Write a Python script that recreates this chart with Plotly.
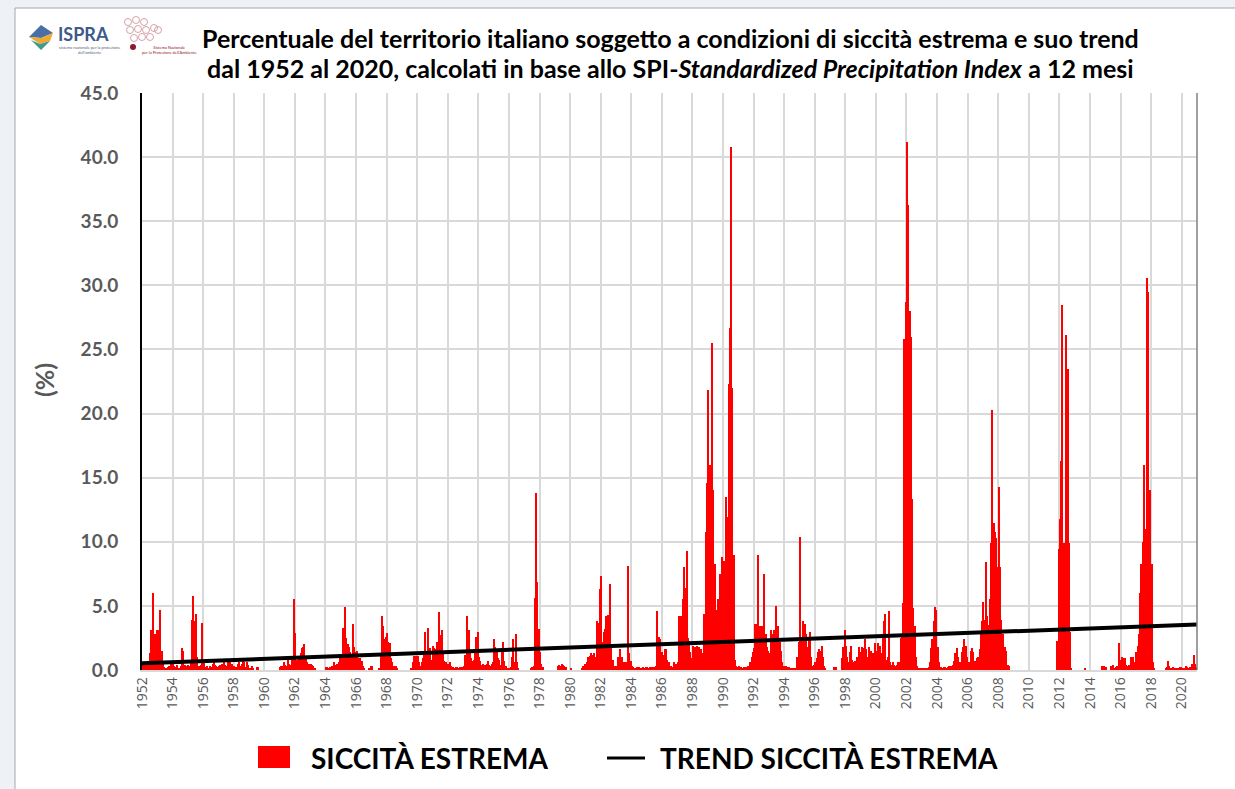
import plotly.graph_objects as go

# ---------------- DATA (monthly % of territory in extreme drought, SPI-12) ----------------
years = list(range(1952, 2021))

s1950s = [  # 1952-1959
    0.5, 0.4, 0.6, 0.5, 0.4, 0.6, 1.3, 3.1, 6.0, 2.3, 2.8, 3.1,
    3.1, 1.8, 4.7, 1.5, 0.5, 0.2, 0.1, 0.1, 0.2, 0.3, 0.6, 0.7,
    0.5, 0.3, 0.2, 0.4, 0.1, 0.1, 0.3, 1.7, 1.5, 0.4, 0.3, 0.3,
    0.4, 0.3, 0.8, 3.9, 5.8, 3.8, 4.4, 1.0, 0.3, 0.2, 0.4, 3.7,
    0.8, 0.2, 0.1, 0.3, 0.1, 0.3, 0.2, 0.5, 0.6, 0.4, 0.3, 0.2,
    0.3, 0.4, 0.5, 0.2, 0.6, 0.4, 0.3, 0.7, 0.7, 0.8, 0.5, 0.3,
    0.3, 0.2, 0.1, 0.5, 0.6, 0.3, 0.5, 0.8, 0.6, 0.2, 0.6, 0.4,
    0.1, 0.0, 0.3, 0.1, 0.0, 0.0, 0.2, 0.2, 0.0, 0.0, 0.0, 0.0,
]
s1960s = [  # 1960-1969
    0.0, 0.0, 0.0, 0.0, 0.0, 0.0, 0.0, 0.0, 0.0, 0.0, 0.0, 0.0,
    0.2, 0.3, 0.3, 0.6, 0.4, 0.3, 0.8, 0.5, 0.4, 1.0, 0.8, 5.5,
    2.9, 0.8, 0.7, 0.9, 1.3, 1.7, 1.8, 2.0, 1.0, 0.6, 0.4, 0.5,
    0.5, 0.4, 0.3, 0.1, 0.0, 0.0, 0.0, 0.0, 0.0, 0.0, 0.0, 0.0,
    0.2, 0.2, 0.1, 0.2, 0.2, 0.3, 0.6, 0.3, 0.4, 0.5, 0.6, 1.0,
    1.2, 3.3, 2.5, 4.9, 2.5, 2.0, 1.8, 1.4, 1.2, 3.6, 1.8, 1.4,
    1.5, 0.9, 0.7, 0.9, 0.7, 0.3, 0.1, 0.0, 0.0, 0.0, 0.1, 0.3,
    0.3, 0.0, 0.0, 0.0, 0.0, 0.0, 0.1, 1.3, 4.2, 3.4, 2.4, 2.6,
    2.9, 2.2, 2.1, 0.9, 0.6, 0.3, 0.2, 0.3, 0.1, 0.0, 0.0, 0.0,
    0.0, 0.0, 0.0, 0.0, 0.0, 0.0, 0.0, 0.1, 0.6, 1.1, 1.1, 1.1,
]
s1970s = [  # 1970-1979
    1.1, 0.6, 0.3, 0.6, 0.9, 1.5, 3.0, 1.3, 3.3, 1.1, 1.7, 0.8,
    1.9, 1.7, 1.6, 2.2, 1.7, 4.5, 2.7, 3.1, 1.3, 0.7, 0.6, 0.3,
    0.5, 0.6, 0.3, 0.2, 0.2, 0.1, 0.2, 0.2, 0.1, 0.2, 0.2, 0.2,
    0.3, 1.2, 1.0, 4.2, 3.1, 1.4, 0.9, 0.7, 0.8, 1.4, 2.6, 3.0,
    1.0, 0.7, 0.4, 0.5, 0.3, 0.4, 0.5, 0.7, 0.4, 0.3, 0.5, 0.6,
    2.4, 1.8, 1.4, 0.9, 0.8, 0.4, 1.4, 2.2, 0.7, 0.3, 0.1, 0.1,
    0.1, 0.2, 1.0, 2.4, 0.6, 2.8, 0.6, 0.1, 0.0, 0.0, 0.0, 0.0,
    0.0, 0.0, 0.0, 0.0, 0.0, 0.1, 0.2, 0.3, 5.6, 13.8, 6.9, 3.2,
    1.4, 0.5, 0.2, 0.0, 0.0, 0.0, 0.0, 0.0, 0.0, 0.0, 0.0, 0.0,
    0.0, 0.0, 0.3, 0.4, 0.3, 0.5, 0.4, 0.3, 0.2, 0.0, 0.0, 0.0,
]
s1980s = [  # 1980-1989
    0.1, 0.0, 0.0, 0.0, 0.0, 0.0, 0.0, 0.0, 0.0, 0.1, 0.3, 0.5,
    0.4, 0.6, 1.0, 1.1, 1.3, 1.2, 1.3, 0.6, 1.0, 3.8, 3.7, 6.3,
    7.3, 2.2, 3.0, 3.2, 4.2, 4.3, 4.3, 6.7, 1.8, 0.8, 0.3, 0.3,
    0.3, 1.0, 1.0, 1.6, 1.0, 0.6, 0.3, 0.6, 0.6, 8.1, 1.3, 0.7,
    0.3, 0.2, 0.1, 0.1, 0.2, 0.1, 0.2, 0.1, 0.1, 0.2, 0.1, 0.2,
    0.2, 0.1, 0.2, 0.2, 0.1, 0.2, 0.2, 0.3, 4.6, 2.6, 2.4, 1.4,
    1.4, 1.2, 1.6, 1.6, 0.8, 0.6, 0.3, 0.3, 0.2, 0.6, 0.3, 0.5,
    0.6, 4.2, 2.4, 4.2, 5.5, 8.0, 6.4, 9.3, 2.5, 2.3, 1.4, 0.9,
    1.9, 1.3, 1.8, 1.9, 1.6, 1.8, 1.6, 1.0, 1.3, 4.4, 10.8, 14.6,
    21.8, 16.0, 16.0, 25.5, 14.0, 8.3, 4.0, 4.7, 5.5, 7.5, 6.8, 8.8,
]
s1990s = [  # 1990-1999
    8.5, 6.0, 13.5, 11.9, 22.3, 26.7, 40.8, 22.0, 9.0, 0.8, 0.3, 0.2,
    0.3, 0.1, 0.2, 0.1, 0.2, 0.1, 0.2, 0.3, 0.3, 0.6, 1.0, 1.4,
    1.7, 3.6, 3.6, 9.0, 3.1, 3.4, 3.4, 3.1, 7.5, 2.8, 1.8, 1.5,
    1.3, 3.1, 1.8, 2.8, 3.1, 5.0, 2.8, 3.4, 2.2, 1.5, 0.6, 0.3,
    0.3, 0.3, 0.2, 0.2, 0.1, 0.1, 0.1, 0.1, 0.0, 0.1, 1.0, 2.2,
    10.4, 2.5, 3.8, 3.1, 3.6, 2.8, 1.8, 2.5, 3.0, 1.0, 0.3, 0.4,
    0.6, 0.9, 1.4, 1.6, 1.5, 1.9, 1.0, 0.3, 0.1, 0.0, 0.0, 0.0,
    0.0, 0.0, 0.0, 0.2, 0.2, 0.0, 0.0, 0.0, 0.0, 0.9, 1.8, 3.1,
    1.9, 1.0, 0.6, 1.4, 1.9, 0.8, 0.6, 0.7, 0.7, 1.0, 1.8, 1.4,
    1.4, 1.8, 1.7, 2.4, 1.6, 1.0, 1.8, 1.0, 1.5, 1.3, 0.8, 2.1,
]
s2000s = [  # 2000-2009
    1.5, 2.1, 1.7, 1.9, 1.3, 2.6, 3.8, 4.4, 0.8, 1.0, 4.6, 0.6,
    0.4, 0.6, 0.4, 0.3, 0.4, 0.6, 0.6, 2.5, 2.8, 5.2, 25.8, 28.7,
    41.2, 36.3, 28.0, 26.0, 13.3, 4.8, 3.4, 1.0, 0.3, 0.1, 0.1, 0.1,
    0.1, 0.1, 0.1, 0.1, 0.1, 0.2, 0.6, 1.7, 2.4, 3.8, 4.9, 4.7,
    1.8, 0.6, 0.2, 0.2, 0.1, 0.2, 0.2, 0.1, 0.2, 0.3, 0.3, 0.3,
    0.4, 0.7, 1.3, 1.7, 1.0, 0.6, 0.6, 1.4, 1.8, 2.4, 1.9, 1.0,
    0.6, 0.6, 1.5, 1.7, 1.4, 0.7, 0.6, 0.9, 1.0, 1.6, 2.8, 3.8,
    5.3, 3.9, 8.4, 4.2, 3.5, 5.5, 9.9, 20.3, 11.5, 10.8, 10.3, 8.0,
    14.3, 8.0, 3.9, 2.8, 1.8, 1.8, 1.5, 0.4, 0.3, 0.0, 0.0, 0.0,
    0.0, 0.0, 0.0, 0.0, 0.0, 0.0, 0.0, 0.0, 0.0, 0.0, 0.0, 0.0,
]
s2010s = [  # 2010-2019
    0.0, 0.0, 0.0, 0.0, 0.0, 0.0, 0.0, 0.0, 0.0, 0.0, 0.0, 0.0,
    0.0, 0.0, 0.0, 0.0, 0.0, 0.0, 0.0, 0.0, 0.0, 0.0, 2.3, 9.4,
    11.8, 16.3, 28.5, 9.9, 9.9, 26.1, 23.5, 9.9, 3.0, 0.1, 0.0, 0.0,
    0.0, 0.0, 0.0, 0.0, 0.0, 0.0, 0.0, 0.0, 0.1, 0.0, 0.0, 0.0,
    0.0, 0.0, 0.0, 0.0, 0.0, 0.0, 0.0, 0.0, 0.0, 0.3, 0.3, 0.3,
    0.2, 0.0, 0.0, 0.0, 0.3, 0.3, 0.4, 0.1, 0.2, 0.3, 2.1, 0.8,
    0.6, 1.0, 0.9, 0.9, 0.4, 0.3, 0.4, 0.3, 1.0, 1.0, 0.6, 0.3,
    1.4, 1.9, 2.8, 6.0, 8.3, 10.0, 16.0, 11.0, 30.6, 29.5, 12.0, 14.0,
    8.3, 0.6, 0.1, 0.0, 0.0, 0.0, 0.0, 0.0, 0.0, 0.0, 0.0, 0.1,
    0.2, 0.7, 0.3, 0.1, 0.1, 0.2, 0.1, 0.1, 0.0, 0.1, 0.2, 0.2,
]
s2020 = [
    0.1, 0.1, 0.1, 0.3, 0.2, 0.1, 0.2, 0.1, 0.5, 1.2, 0.5, 0.2,
]

trend_start = 0.52   # trend value at Jan 1952
trend_end = 3.55     # trend value at Dec 2020

tick_years = list(range(1952, 2021, 2))
tick_labels = [str(y) for y in tick_years]

# ---------------- BUILD ----------------
values = s1950s + s1960s + s1970s + s1980s + s1990s + s2000s + s2010s + s2020
xpos = [years[0] + (i + 0.5) / 12 for i in range(len(values))]

L, R, T, B = 142, 38, 93, 119
W, H = 1235, 789
PW, PH = W - L - R, H - T - B


def px(x):
    return (x - L) / PW


def py(y):
    return (H - B - y) / PH


fig = go.Figure()
fig.add_trace(go.Bar(
    x=xpos, y=values, name="SICCITÀ ESTREMA",
    marker=dict(color="#ff0000", line=dict(width=0)),
    showlegend=False,
))
fig.add_trace(go.Scatter(
    x=[years[0], years[-1] + 1], y=[trend_start, trend_end],
    mode="lines", line=dict(color="black", width=4),
    name="TREND SICCITÀ ESTREMA", showlegend=False,
))

gray = "#595959"
fig.update_layout(
    width=W, height=H,
    margin=dict(l=L, r=R, t=T, b=B),
    paper_bgcolor="#eef1f6",
    plot_bgcolor="white",
    bargap=0,
    font=dict(family="Lato", color=gray),
    xaxis=dict(
        range=[years[0], years[-1] + 1],
        tickmode="array", tickvals=tick_years, ticktext=tick_labels,
        tickangle=-90, tickfont=dict(size=14, color=gray, family="Open Sans"),
        showgrid=True, gridcolor="#d9d9d9", gridwidth=1.5,
        showline=True, linecolor="#d9d9d9", linewidth=1.5,
        ticks="", zeroline=False,
    ),
    yaxis=dict(
        range=[0, 45], dtick=5, tickformat=".1f",
        tickfont=dict(size=19, color=gray, weight="bold"),
        showgrid=True, gridcolor="#d9d9d9", gridwidth=1.5,
        showline=True, linecolor="black", linewidth=2,
        ticks="", zeroline=False, ticklabelstandoff=18,
    ),
)

shapes = [
    # white chart frame
    dict(type="rect", xref="paper", yref="paper", layer="below",
         x0=px(15), x1=px(1245), y0=py(800), y1=py(8),
         fillcolor="white", line=dict(color="#a6a6a6", width=1)),
    # right border of plot area
    dict(type="line", xref="paper", yref="paper", x0=1, x1=1, y0=0, y1=1,
         line=dict(color="#7f7f7f", width=1.5)),
    # legend symbols
    dict(type="rect", xref="paper", yref="paper",
         x0=px(258), x1=px(290), y0=py(768), y1=py(746),
         fillcolor="#ff0000", line=dict(width=0)),
    dict(type="line", xref="paper", yref="paper",
         x0=px(607), x1=px(645), y0=py(758), y1=py(758),
         line=dict(color="black", width=3)),
    # ISPRA logo icon
    dict(type="path", xref="paper", yref="paper",
         path=f"M {px(29)},{py(37)} L {px(41)},{py(25)} L {px(53)},{py(33)} L {px(41)},{py(38)} Z",
         fillcolor="#4a6fa5", line=dict(width=0)),
    dict(type="path", xref="paper", yref="paper",
         path=f"M {px(29)},{py(37)} L {px(41)},{py(38)} L {px(53)},{py(33)} L {px(50)},{py(41)} L {px(40)},{py(44)} Z",
         fillcolor="#f0a830", line=dict(width=0)),
    dict(type="path", xref="paper", yref="paper",
         path=f"M {px(31)},{py(40)} L {px(40)},{py(44)} L {px(50)},{py(41)} L {px(41)},{py(50)} Z",
         fillcolor="#3f9c8c", line=dict(width=0)),
]
# small circles of the second logo
for cx, cy in [(128, 22), (136, 20), (144, 22), (130, 30), (138, 29), (146, 30),
               (154, 28), (134, 38), (142, 37), (150, 37), (158, 30)]:
    shapes.append(dict(type="circle", xref="paper", yref="paper",
                       x0=px(cx - 3.5), x1=px(cx + 3.5), y0=py(cy + 3.5), y1=py(cy - 3.5),
                       line=dict(color="#d4a3a8", width=1)))
shapes.append(dict(type="circle", xref="paper", yref="paper",
                   x0=px(130), x1=px(136), y0=py(50), y1=py(44),
                   fillcolor="#8b1a2b", line=dict(width=0)))
fig.update_layout(shapes=shapes)

ann = [
    dict(text="<b>Percentuale del territorio italiano soggetto a condizioni di siccità estrema e suo trend</b>",
         x=px(670), y=py(38), font=dict(size=25, color="black")),
    dict(text="<b>dal 1952 al 2020, calcolati in base allo SPI-<i>Standardized Precipitation Index</i> a 12 mesi</b>",
         x=px(670), y=py(68), font=dict(size=25, color="black")),
    dict(text="<b>(%)</b>", x=px(44), y=py(380), textangle=-90,
         font=dict(size=25, color=gray)),
    dict(text="<b>SICCITÀ ESTREMA</b>", x=px(309), y=py(758), xanchor="left",
         font=dict(size=28, color="black")),
    dict(text="<b>TREND SICCITÀ ESTREMA</b>", x=px(658), y=py(758), xanchor="left",
         font=dict(size=28, color="black")),
    dict(text="<b>ISPRA</b>", x=px(56), y=py(34), xanchor="left",
         font=dict(size=18, color="#3d5a8a")),
    dict(text="sistema nazionale per la protezione<br>dell'ambiente", x=px(57), y=py(50), xanchor="left",
         font=dict(size=4, color="#556080")),
    dict(text="Sistema Nazionale<br>per la Protezione dell'Ambiente", x=px(140), y=py(50), xanchor="left",
         font=dict(size=4, color="#8b1a2b")),
]
for a in ann:
    a.update(xref="paper", yref="paper", showarrow=False)
    a.setdefault("xanchor", "center")
    a.setdefault("yanchor", "middle")
fig.update_layout(annotations=ann)

fig.write_html(
    "out.html",
    config={"displayModeBar": False},
    post_script="document.body.style.margin='0px';document.body.style.overflow='hidden';",
)
